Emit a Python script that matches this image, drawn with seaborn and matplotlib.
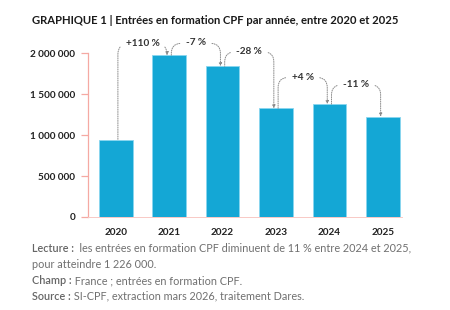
import matplotlib
matplotlib.use("Agg")
import matplotlib.pyplot as plt
import seaborn as sns
import pandas as pd

years = ["2020", "2021", "2022", "2023", "2024", "2025"]
entries = [940000, 1975000, 1840000, 1326000, 1378000, 1226000]
changes = ["+110 %", "-7 %", "-28 %", "+4 %", "-11 %"]
y_ticks = [0, 500000, 1000000, 1500000, 2000000]
y_tick_labels = ["0", "500 000", "1 000 000", "1 500 000", "2 000 000"]

title = "GRAPHIQUE 1 | Entrées en formation CPF par année, entre 2020 et 2025"
notes = [
    ("Lecture :", "  les entrées en formation CPF diminuent de 11 % entre 2024 et 2025,"),
    ("", "pour atteindre 1 226 000."),
    ("Champ :", " France ; entrées en formation CPF."),
    ("Source :", " SI-CPF, extraction mars 2026, traitement Dares."),
]

sns.set_theme(style="white")
plt.rcParams["font.family"] = ["Lato", "DejaVu Sans"]

df = pd.DataFrame({"year": years, "entries": entries})

fig = plt.figure(figsize=(4.5, 3.1), dpi=100)
ax = fig.add_axes([88 / 450, 1 - 217 / 310, (402 - 88) / 450, (217 - 45) / 310])

sns.barplot(data=df, x="year", y="entries", color="#14A7D5", saturation=1,
            width=0.63, edgecolor="#8AD6EF", linewidth=0.6, ax=ax)

ax.set_xlim(-0.52, 5.36)
ax.set_ylim(0, 2100000)
ax.set_yticks(y_ticks)
ax.set_yticklabels(y_tick_labels)
ax.set_xlabel("")
ax.set_ylabel("")

spine_col = "#F5A9A3"
for s in ["top", "right"]:
    ax.spines[s].set_visible(False)
ax.spines["left"].set_color(spine_col)
ax.spines["left"].set_linewidth(0.9)
ax.spines["left"].set_bounds(0, 2000000)
ax.spines["bottom"].set_color("#F8C9C5")
ax.spines["bottom"].set_linewidth(0.7)
ax.tick_params(axis="y", which="major", left=True, length=5, width=0.9,
               color=spine_col, pad=4, labelsize=7.2, labelcolor="#222222")
ax.tick_params(axis="x", bottom=False, pad=2, labelsize=7.2, labelcolor="#222222")
for lab in ax.get_yticklabels() + ax.get_xticklabels():
    lab.set_fontweight("bold")

# dotted change arrows between consecutive bars
arc_lift = [140000, 150000, 180000, 330000, 240000]
dots = (0, (1, 1.3))
for i, lab in enumerate(changes):
    top = max(entries[i], entries[i + 1]) + arc_lift[i]
    xm = i + 0.5
    ax.annotate(lab, xy=(i + 0.04, entries[i]), xytext=(xm, top),
                ha="center", va="center", fontsize=7.2, fontweight="bold",
                color="#333333", annotation_clip=False,
                arrowprops=dict(arrowstyle="-", linestyle=dots, relpos=(0, 0.45),
                                color="#8a8a8a", lw=0.7, shrinkA=2, shrinkB=0,
                                connectionstyle="angle,angleA=180,angleB=90,rad=10"))
    ax.annotate(lab, xy=(i + 1 - 0.04, entries[i + 1]), xytext=(xm, top),
                ha="center", va="center", fontsize=7.2, fontweight="bold",
                color="none", annotation_clip=False,
                arrowprops=dict(arrowstyle="-|>,head_length=0.25,head_width=0.12",
                                linestyle=dots, relpos=(1, 0.45),
                                color="#8a8a8a", lw=0.7, shrinkA=2, shrinkB=0,
                                connectionstyle="angle,angleA=0,angleB=90,rad=10"))

fig.text(32 / 450, 1 - 20 / 310, title, fontsize=8.1, fontweight="bold",
         color="#1a1a1a", ha="left", va="center")

renderer = fig.canvas.get_renderer()
note_y = [248, 264, 281, 296]
for (b, r), py in zip(notes, note_y):
    x = 32 / 450
    yy = 1 - py / 310
    if b:
        tb = fig.text(x, yy, b, fontsize=7.8, fontweight="semibold", color="#666666",
                      ha="left", va="center")
        bb = tb.get_window_extent(renderer)
        x = bb.x1 / fig.bbox.width
    fig.text(x, yy, r, fontsize=7.8, color="#707070", ha="left", va="center")

fig.savefig("out.png", dpi=100)
